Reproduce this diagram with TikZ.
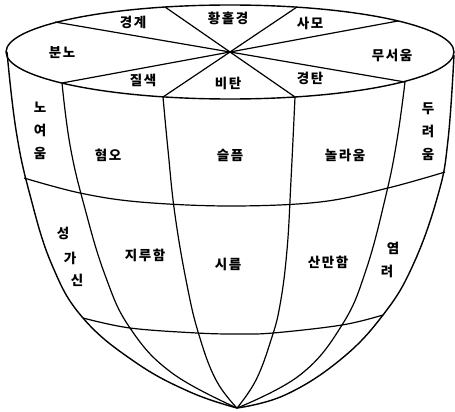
\documentclass[tikz,border=0pt]{standalone}
\usepackage{fontspec}
\usepackage{tikz}
\newfontfamily\kor[LetterSpace=12]{Noto Sans CJK KR}
\usetikzlibrary{calc}
\tikzstyle{lbl} = [inner sep=0pt, font=\kor\bfseries\fontsize{13.5}{23}\selectfont, align=center]
\tikzstyle{rim} = [line width=1.4pt, black]
\tikzstyle{ring} = [line width=1.2pt, black]

\begin{document}
\begin{tikzpicture}[x=1pt, y=-1pt]
      \useasboundingbox (0,0) rectangle (455,412);
      % top face
      \coordinate (c) at (230,52);
      \draw[rim] (c) ellipse [x radius=224, y radius=47];
      \draw[ring] (165,7) -- (295,97);
      \draw[ring] (297,7) -- (163,97);
      \draw[ring] (55,22) -- (405,82);
      \draw[ring] (398,21) -- (62,83);
      % meridians
      \draw[rim] plot[smooth, tension=0.7] coordinates {(7,52) (16,130) (30,195) (52,265) (83,318) (135,362) (190,392) (237,408)};
      \draw[ring] plot[smooth, tension=0.7] coordinates {(62,83) (70,145) (84,205) (105,275) (130,328) (172,373) (237,408)};
      \draw[ring] plot[smooth, tension=0.7] coordinates {(163,97) (168,150) (175,215) (187,285) (199,335) (216,380) (237,408)};
      \draw[ring] plot[smooth, tension=0.7] coordinates {(295,97) (291,180) (287,250) (280,305) (271,340) (256,380) (237,408)};
      \draw[ring] plot[smooth, tension=0.7] coordinates {(405,82) (397,140) (386,195) (366,270) (342,325) (300,375) (237,408)};
      \draw[rim] plot[smooth, tension=0.7] coordinates {(454,55) (448,140) (438,195) (413,265) (383,315) (340,360) (285,395) (237,408)};
      % rings
      \draw[ring] plot[smooth, tension=0.6] coordinates {(24,178) (80,193) (140,202) (230,206) (320,202) (388,188) (445,172)};
      \draw[ring] plot[smooth, tension=0.6] coordinates {(83,318) (130,328) (197,333) (237,334) (273,333) (342,325) (383,315)};
      % top labels
      \node (vig) [lbl] at (133,22) {경계};
      \node (ecs) [lbl] at (228,18) {황홀경};
      \node (ado) [lbl] at (310,23) {사모};
      \node (rag) [lbl] at (62,53) {분노};
      \node (ter) [lbl] at (392,55) {무서움};
      \node (loa) [lbl] at (143,80) {질색};
      \node (gri) [lbl] at (228,83) {비탄};
      \node (ama) [lbl] at (310,78) {경탄};
      % middle labels
      \node (ang) [lbl] at (40,131) {노\\여\\움};
      \node (dis) [lbl] at (108,155) {혐오};
      \node (sad) [lbl] at (230,155) {슬픔};
      \node (sur) [lbl] at (345,155) {놀라움};
      \node (fea) [lbl] at (428,132) {두\\려\\움};
      % lower labels
      \node (ann1) [lbl] at (63,233) {성};
      \node (ann2) [lbl] at (70,258) {가};
      \node (ann3) [lbl] at (77,280) {신};
      \node (bor) [lbl] at (145,255) {지루함};
      \node (pen) [lbl] at (228,264) {시름};
      \node (dst) [lbl] at (328,262) {산만함};
      \node (app1) [lbl] at (393,248) {염};
      \node (app2) [lbl] at (387,271) {려};
\end{tikzpicture}
\end{document}
